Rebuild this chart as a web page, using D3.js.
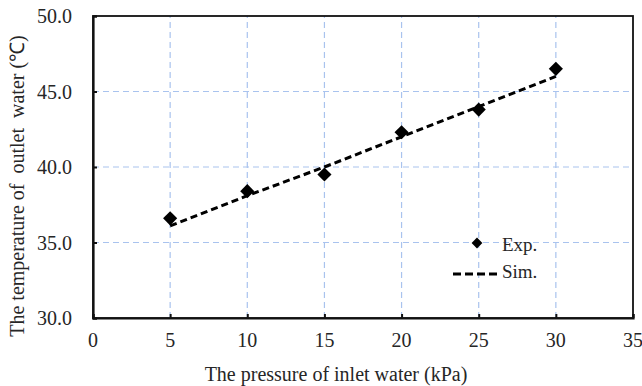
<!DOCTYPE html>
<html>
<head>
<meta charset="utf-8">
<script src="https://cdn.jsdelivr.net/npm/d3@7"></script>
<style>
  body { margin: 0; background: #fff; }
  text { font-family: "Liberation Serif", "Times New Roman", serif; fill: #262626; }
</style>
</head>
<body>
<script>
(function(){

    //chart data
    var pressure = [5, 10, 15, 20, 25, 30];                 //kPa
    var expTemp = [36.6, 38.4, 39.5, 42.3, 43.8, 46.5];     //experimental, degC
    var simTemp = [36.1, 38.1, 40.0, 42.0, 44.0, 46.0];     //simulated, degC
    var xTicks = [0, 5, 10, 15, 20, 25, 30, 35];
    var yTicks = [30, 35, 40, 45, 50];
    var seriesNames = ["Exp.", "Sim."];

    var width = 642,
        height = 386;

    var margin = {top: 16, right: 9, bottom: 68, left: 93};

    var svg = d3.select("body")
        .append("svg")
        .attr("width", width)
        .attr("height", height);

    var x = d3.scaleLinear()
        .domain([0, 35])
        .range([margin.left, width - margin.right]);

    var y = d3.scaleLinear()
        .domain([30, 50])
        .range([height - margin.bottom, margin.top]);

    //dashed grid lines
    svg.selectAll(".vgrid")
        .data(xTicks.slice(1, -1))
        .enter()
        .append("line")
        .attr("class", "vgrid")
        .attr("x1", function(d){ return x(d); })
        .attr("x2", function(d){ return x(d); })
        .attr("y1", y(30))
        .attr("y2", y(50))
        .attr("stroke", "#a9c3ee")
        .attr("stroke-width", 1.2)
        .attr("stroke-dasharray", "6,4");

    svg.selectAll(".hgrid")
        .data(yTicks.slice(1, -1))
        .enter()
        .append("line")
        .attr("class", "hgrid")
        .attr("x1", x(0))
        .attr("x2", x(35))
        .attr("y1", function(d){ return y(d); })
        .attr("y2", function(d){ return y(d); })
        .attr("stroke", "#a9c3ee")
        .attr("stroke-width", 1.2)
        .attr("stroke-dasharray", "6,4");

    //plot frame
    svg.append("rect")
        .attr("x", x(0))
        .attr("y", y(50))
        .attr("width", x(35) - x(0))
        .attr("height", y(30) - y(50))
        .attr("fill", "none")
        .attr("stroke", "#111")
        .attr("stroke-width", 1.8);

    //axes with inward ticks
    var xAxis = svg.append("g")
        .attr("transform", "translate(0," + y(30) + ")")
        .call(d3.axisTop(x).tickValues(xTicks).tickSize(4).tickFormat(""));
    xAxis.select(".domain").attr("stroke", "#111").attr("stroke-width", 2.2);
    xAxis.selectAll(".tick line").attr("stroke", "#111").attr("stroke-width", 2);

    var yAxis = svg.append("g")
        .attr("transform", "translate(" + x(0) + ",0)")
        .call(d3.axisRight(y).tickValues(yTicks).tickSize(4).tickFormat(""));
    yAxis.select(".domain").attr("stroke", "#111").attr("stroke-width", 2.2);
    yAxis.selectAll(".tick line").attr("stroke", "#111").attr("stroke-width", 2);

    //tick labels
    svg.selectAll(".xlab")
        .data(xTicks)
        .enter()
        .append("text")
        .attr("class", "xlab")
        .attr("x", function(d){ return x(d); })
        .attr("y", 347)
        .attr("text-anchor", "middle")
        .style("font-size", "20px")
        .text(function(d){ return d; });

    svg.selectAll(".ylab")
        .data(yTicks)
        .enter()
        .append("text")
        .attr("class", "ylab")
        .attr("x", 72)
        .attr("y", function(d){ return y(d) + 7; })
        .attr("text-anchor", "end")
        .style("font-size", "20px")
        .text(function(d){ return d.toFixed(1); });

    //axis titles
    svg.append("text")
        .attr("x", 336)
        .attr("y", 381)
        .attr("text-anchor", "middle")
        .style("font-size", "20px")
        .text("The pressure of inlet water (kPa)");

    svg.append("text")
        .attr("transform", "translate(24,186) rotate(-90)")
        .attr("text-anchor", "middle")
        .style("font-size", "20px")
        .style("white-space", "pre")
        .text("The temperature of  outlet  water (\u2103)");

    //simulation line
    var line = d3.line()
        .x(function(d, i){ return x(pressure[i]); })
        .y(function(d){ return y(d); });

    svg.append("path")
        .datum(simTemp)
        .attr("d", line)
        .attr("fill", "none")
        .attr("stroke", "#000")
        .attr("stroke-width", 3)
        .attr("stroke-dasharray", "7,4");

    //experimental points
    var diamond = d3.symbol().type(d3.symbolSquare).size(100);

    svg.selectAll(".exp")
        .data(expTemp)
        .enter()
        .append("path")
        .attr("class", "exp")
        .attr("d", diamond)
        .attr("transform", function(d, i){
            return "translate(" + x(pressure[i]) + "," + y(d) + ") rotate(45)";
        })
        .attr("fill", "#000");

    //legend
    var legend = svg.append("g");

    legend.append("path")
        .attr("d", d3.symbol().type(d3.symbolSquare).size(58))
        .attr("transform", "translate(477,243) rotate(45)")
        .attr("fill", "#000");

    legend.append("line")
        .attr("x1", 453)
        .attr("x2", 501)
        .attr("y1", 274)
        .attr("y2", 274)
        .attr("stroke", "#000")
        .attr("stroke-width", 3)
        .attr("stroke-dasharray", "8,4");

    legend.selectAll(".legtext")
        .data(seriesNames)
        .enter()
        .append("text")
        .attr("class", "legtext")
        .attr("x", 502)
        .attr("y", function(d, i){ return 251 + i * 27; })
        .style("font-size", "19px")
        .text(function(d){ return d; });

})();
</script>
</body>
</html>
